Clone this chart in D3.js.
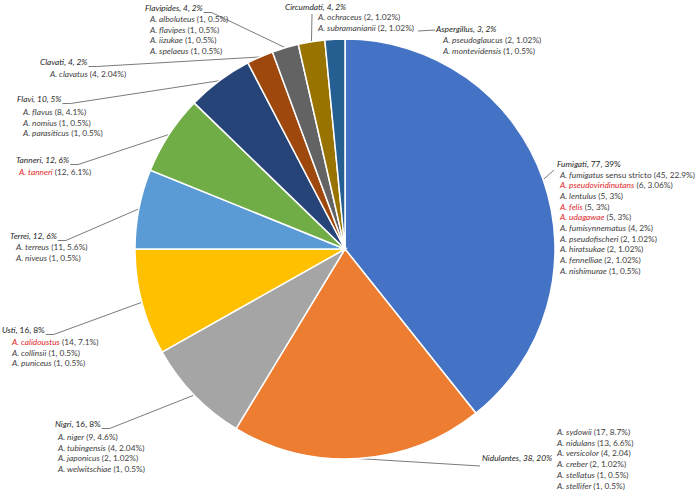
<!DOCTYPE html>
<html>
<head>
<meta charset="utf-8">
<script src="https://cdn.jsdelivr.net/npm/d3@7"></script>
<style>
  body { margin: 0; background: #fff; }
  svg text { font-family: Lato, "Open Sans", sans-serif; font-size: 8.3px; }
</style>
</head>
<body>
<div id="chart"></div>
<script>
// section (group) data, clockwise from 12 o'clock
const groups = ['Fumigati', 'Nidulantes', 'Nigri', 'Usti', 'Terrei', 'Tanneri', 'Flavi', 'Clavati', 'Flavipides', 'Circumdati', 'Aspergillus'];
const groupCounts = [77, 38, 16, 16, 12, 12, 10, 4, 4, 4, 3];
const groupPcts = ['39%', '20%', '8%', '8%', '6%', '6%', '5%', '2%', '2%', '2%', '2%'];

// species per section: [name, count, percent]
const spFumigati = [['fumigatus sensu stricto', 45, '22.9%'], ['pseudoviridinutans', 6, '3.06%'], ['lentulus', 5, '3%'], ['felis', 5, '3%'], ['udagawae', 5, '3%'], ['fumisynnematus', 4, '2%'], ['pseudofischeri', 2, '1.02%'], ['hiratsukae', 2, '1.02%'], ['fennelliae', 2, '1.02%'], ['nishimurae', 1, '0.5%']];
const spNidulantes = [['sydowii', 17, '8.7%'], ['nidulans', 13, '6.6%'], ['versicolor', 4, '2.04'], ['creber', 2, '1.02%'], ['stellatus', 1, '0.5%'], ['stellifer', 1, '0.5%']];
const spNigri = [['niger', 9, '4.6%'], ['tubingensis', 4, '2.04%'], ['japonicus', 2, '1.02%'], ['welwitschiae', 1, '0.5%']];
const spUsti = [['calidoustus', 14, '7.1%'], ['collinsii', 1, '0.5%'], ['puniceus', 1, '0.5%']];
const spTerrei = [['terreus', 11, '5.6%'], ['niveus', 1, '0.5%']];
const spTanneri = [['tanneri', 12, '6.1%']];
const spFlavi = [['flavus', 8, '4.1%'], ['nomius', 1, '0.5%'], ['parasiticus', 1, '0.5%']];
const spClavati = [['clavatus', 4, '2.04%']];
const spFlavipides = [['alboluteus', 1, '0.5%'], ['flavipes', 1, '0.5%'], ['iizukae', 1, '0.5%'], ['spelaeus', 1, '0.5%']];
const spCircumdati = [['ochraceus', 2, '1.02%'], ['subramanianii', 2, '1.02%']];
const spAspergillus = [['pseudoglaucus', 2, '1.02%'], ['montevidensis', 1, '0.5%']];
const speciesByGroup = [spFumigati, spNidulantes, spNigri, spUsti, spTerrei, spTanneri, spFlavi, spClavati, spFlavipides, spCircumdati, spAspergillus];

// species highlighted in red
const redSpecies = ['pseudoviridinutans', 'felis', 'udagawae', 'tanneri', 'calidoustus'];

const colors = ['#4472C4', '#ED7D31', '#A5A5A5', '#FFC000', '#5B9BD5', '#70AD47', '#264478', '#9E480E', '#636363', '#997300', '#255E91'];

const width = 696;
const height = 492;
const cx = 345;
const cy = 249;
const radius = 210;
const lineH = 10.7;

// label placement (header x/y, species block x/y)
const labelLayout = [
  { x: 557, y: 167, sx: 560, sy: 177.5, attach: [554, 170] },
  { x: 482, y: 461, sx: 557, sy: 435, attach: [480, 466] },
  { x: 55, y: 427, sx: 58, sy: 440 },
  { x: 2, y: 333, sx: 12, sy: 345 },
  { x: 10, y: 239, sx: 16, sy: 250 },
  { x: 16, y: 163, sx: 19, sy: 175 },
  { x: 17, y: 102, sx: 23, sy: 115 },
  { x: 40, y: 65, sx: 50, sy: 77 },
  { x: 145, y: 11, sx: 150, sy: 22 },
  { x: 285, y: 10, sx: 318, sy: 20, attach: [312, 14] },
  { x: 436, y: 32, sx: 443, sy: 43, tick: 18 }
];
const uprightNums = ['Fumigati', 'Nigri', 'Usti'];

const svg = d3.select('#chart')
  .append('svg')
    .attr('width', width)
    .attr('height', height);

const pie = d3.pie().sort(null).value((d) => d);
const arcs = pie(groupCounts);
const arc = d3.arc().innerRadius(0).outerRadius(radius);

const g = svg.append('g')
  .attr('transform', 'translate(' + cx + ',' + cy + ')');

g.selectAll('path')
  .data(arcs)
  .join('path')
    .attr('d', arc)
    .attr('fill', (d, i) => colors[i])
    .attr('stroke', '#fff')
    .attr('stroke-width', 1.5);

// point on the rim at the middle of a slice
function rimPoint(d) {
  const a = (d.startAngle + d.endAngle) / 2;
  return [cx + radius * Math.sin(a), cy - radius * Math.cos(a)];
}

const labels = svg.append('g');
const leaders = svg.insert('g', 'g');

groups.forEach((name, i) => {
  const lay = labelLayout[i];
  const head = labels.append('text')
    .attr('x', lay.x)
    .attr('y', lay.y)
    .attr('fill', '#1e1e1e');
  const upright = uprightNums.includes(name);
  head.append('tspan').attr('font-style', 'italic').text(name);
  head.append('tspan')
    .attr('font-style', upright ? 'normal' : 'italic')
    .text(', ' + groupCounts[i] + ', ' + groupPcts[i]);

  speciesByGroup[i].forEach((s, j) => {
    const parts = s[0].split(' ');
    const t = labels.append('text')
      .attr('x', lay.sx)
      .attr('y', lay.sy + j * lineH)
      .attr('fill', '#404040');
    t.append('tspan')
      .attr('font-style', 'italic')
      .attr('fill', redSpecies.includes(parts[0]) ? '#E0262B' : null)
      .text('A. ' + parts[0]);
    const rest = parts.slice(1).join(' ');
    t.append('tspan').text((rest ? ' ' + rest : '') + ' (' + s[1] + ', ' + s[2] + ')');
  });

  // leader line
  let pts;
  const rim = rimPoint(arcs[i]);
  if (lay.tick) {
    pts = [[lay.x - lay.tick, lay.y - 1], [lay.x - 1, lay.y - 2]];
  } else if (lay.attach) {
    pts = [rim, lay.attach];
  } else {
    const right = lay.x + head.node().getComputedTextLength() + 1;
    pts = [rim, [right + 8, lay.y + 1.5], [right, lay.y + 1.5]];
  }
  leaders.append('path')
    .attr('d', d3.line()(pts))
    .attr('fill', 'none')
    .attr('stroke', '#595959')
    .attr('stroke-width', 0.8);
});

// slices drawn above leaders so lines stop at the rim
svg.node().appendChild(g.node());
svg.node().appendChild(labels.node());
</script>
</body>
</html>
